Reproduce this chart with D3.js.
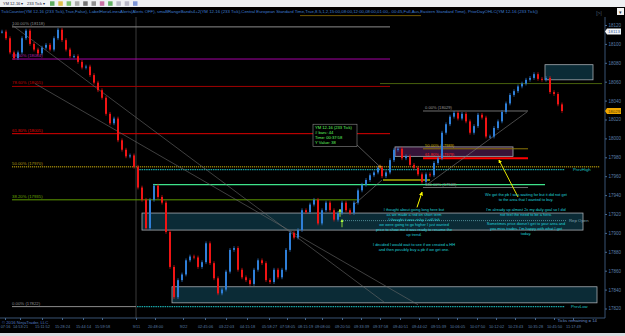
<!DOCTYPE html>
<html>
<head>
<meta charset="utf-8">
<script src="https://d3js.org/d3.v7.min.js"></script>
<style>
    body { margin: 0; background: #000; }
    svg { display: block; }
    text { font-family: "Liberation Sans", Arial, sans-serif; }
</style>
</head>
<body>
<svg id="chart" width="625" height="336"></svg>
<script>
    // closes of the 233 tick bars (left to right)
    const closes = [18113, 18106, 18091, 18085, 18091, 18106, 18114, 18100, 18094, 18090,
        18096, 18099, 18094, 18106, 18115, 18104, 18094, 18087, 18087, 18081,
        18075, 18076, 18067, 18059, 18051, 18043, 18026, 18016, 18021, 17998,
        17988, 17981, 17982, 17970, 17948, 17935, 17905, 17935, 17950, 17938,
        17932, 17901, 17864, 17832, 17850, 17856, 17871, 17875, 17874, 17864,
        17869, 17889, 17868, 17852, 17836, 17840, 17859, 17882, 17884, 17861,
        17853, 17850, 17846, 17861, 17871, 17868, 17850, 17848, 17861, 17853,
        17861, 17882, 17900, 17895, 17903, 17924, 17922, 17930, 17935, 17910,
        17924, 17932, 17924, 17914, 17921, 17932, 17924, 17921, 17932, 17945,
        17951, 17956, 17961, 17964, 17969, 17960, 17964, 17977, 17988, 17989,
        17979, 17981, 17972, 17969, 17962, 17954, 17962, 17961, 17974, 17979,
        18006, 18015, 18023, 18027, 18021, 18026, 18018, 18006, 18013, 18025,
        18022, 18002, 18002, 18011, 18018, 18028, 18037, 18046, 18050, 18055,
        18058, 18062, 18064, 18068, 18063, 18062, 18064, 18049, 18047, 18036,
        18029]

    const priceTicks = [18120, 18100, 18080, 18060, 18040, 18020, 18000, 17980, 17960, 17940, 17920, 17900, 17880, 17860, 17840, 17820]
    const timeLabels = ["07:16", "14:53:21", "15:11:52", "15:28:24", "15:44:14", "15:59:58", "9/11", "20:48:00", "9/22",
        "02:45:06", "03:22:03", "04:15:18", "05:58:27", "07:58:05", "08:15:19", "09:08:00", "09:20:50", "09:33:39",
        "09:37:58", "09:40:51", "09:44:02", "09:55:39", "10:06:05", "10:07:50", "10:12:02", "10:23:43", "10:35:28",
        "10:45:50", "11:17:49"]
    const timeBars = [0.75, 4.5, 10, 15, 20.25, 25, 33.5, 38.25, 45.25, 50.75, 56, 61.25, 66.75, 71.25, 75.75, 80, 85,
        89.75, 94.5, 99.5, 104.25, 109, 113.75, 118.75, 123.5, 128.25, 133.25, 138, 142.75]

    // big fib (swing high 18118 -> swing low 17822)
    const fibPct = ["100.00%", "88.60%", "78.60%", "61.80%", "50.00%", "38.20%", "0.00%"]
    const fibPrice = [18118, 18084, 18055, 18005, 17970, 17935, 17822]
    // small fib on the pullback
    const pbPct = ["0.00%", "50.00%", "61.80%", "100.00%"]
    const pbPrice = [18029, 17989, 17979, 17948]

    // zones (price top / bottom, first / last bar)
    const zoneTop = [18078, 17991, 17921, 17843]
    const zoneBottom = [18062, 17981, 17903, 17826]
    const zoneFrom = [135.75, 98.25, 35, 42.5]
    const zoneTo = [147.75, 127.75, 145.25, 148.75]

    const prevHigh = 17967, prevLow = 17822, repOpen = 17913
    const lastPrice = 18029, markPrice = 18113

    const notesLeft = ["I thought about going long here but", "as we made a red on short term",
        "I thought it was risky.  I still felt", "we were going to go higher I just wanted",
        "price to show me it was ready to resume the", "up trend.", "",
        "I decided I would wait to see if we created  a HH", "and then possibly buy a pb if we get one."]
    const notesRight = ["We got the pb I was waiting for but it did not get", "to the area that I wanted to buy.", "",
        "I'm already up almost 2x my daily goal so I did", "not feel the need to be a hero.", "",
        "Sometimes price doesn't get to your area and", "you miss trades.  I'm happy with what I got", "today."]
    const infoLines = ["YM 12-16 (233 Tick)", "# bars:      44", "Time:        00:37:58", "Y Value:    38"]

    const svg = d3.select("#chart")
    const x = d3.scaleLinear().domain([0, 150.75]).range([2, 605])
    const y = d3.scaleLinear().domain([17820, 18120]).range([308.5, 25])

    const txt = (g, px, py, s, size, fill, anchor) => g.append("text")
        .attr("x", px).attr("y", py).attr("font-size", size).attr("fill", fill)
        .attr("text-anchor", anchor || "start").text(s)

    function hline(price, i0, i1, color, width, dash) {
        svg.append("line")
            .attr("x1", x(i0)).attr("x2", x(i1))
            .attr("y1", y(price)).attr("y2", y(price))
            .attr("stroke", color).attr("stroke-width", width || 1)
            .attr("stroke-dasharray", dash || null)
    }
    function segment(i0, p0, i1, p1, color, width, marker) {
        svg.append("line")
            .attr("x1", x(i0)).attr("y1", y(p0)).attr("x2", x(i1)).attr("y2", y(p1))
            .attr("stroke", color).attr("stroke-width", width || 0.7)
            .attr("marker-end", marker || null)
    }

    function drawFrame() {
        svg.append("rect").attr("width", 625).attr("height", 336).attr("fill", "#000")
        // toolbar
        svg.append("rect").attr("width", 625).attr("height", 7).attr("fill", "#eef0f3")
        txt(svg, 3, 5.3, "YM 12-16 \u25BE", 4, "#223")
        txt(svg, 27, 5.3, "233 Tick \u25BE", 4, "#223")
        const icons = ["#3a9a3a", "#d8b020", "#5ab04a", "#999", "#555", "#777", "#c05090", "#40a040", "#aab", "#aab", "#6080d0"]
        icons.forEach((c, k) => svg.append("rect").attr("x", 50 + k * 8.3).attr("y", 1.3).attr("width", 4.5).attr("height", 4.5)
            .attr("fill", c).attr("opacity", 0.8))
        svg.append("rect").attr("x", 617).attr("y", 8).attr("width", 7).attr("height", 7).attr("fill", "#f2f2f2")
        txt(svg, 620.5, 13.8, "\u25BE", 5, "#333", "middle")
        txt(svg, 599, 15, "[>|", 5, "#4d6078", "middle")
        // indicator line
        svg.append("text").attr("x", 1).attr("y", 12.6).attr("font-size", 4.4).attr("fill", "#3f7dd0")
            .attr("textLength", 537).attr("lengthAdjust", "spacingAndGlyphs")
            .text("TickCounter(YM 12-16 (233 Tick),True,False), LabelHorizLinesAlerts(Alerts OFF), smaBRangeBands4+2(YM 12-16 (233 Tick),Central European Standard Time,True,8.5,1,2,15:00,08:00,12:00,08:00,01:00,- 00:45,Full,Aus,Eastern Standard Time), PriorDayOHLC(YM 12-16 (233 Tick))")
        svg.append("line").attr("x1", 300).attr("x2", 421).attr("y1", 15.6).attr("y2", 15.6)
            .attr("stroke", "#8a6a00").attr("stroke-width", 0.8)
        // session break
        svg.append("line").attr("x1", x(33.5)).attr("x2", x(33.5)).attr("y1", 17).attr("y2", 318)
            .attr("stroke", "#4a4a4a").attr("stroke-width", 0.8)
        // bottom strip
        svg.append("rect").attr("y", 333).attr("width", 625).attr("height", 3).attr("fill", "#d8dbe0")
    }

    function drawZones() {
        zoneTop.forEach((t, k) => {
            svg.append("rect")
                .attr("x", x(zoneFrom[k])).attr("width", x(zoneTo[k]) - x(zoneFrom[k]))
                .attr("y", y(t)).attr("height", y(zoneBottom[k]) - y(t))
                .attr("fill", k == 1 ? "#361338" : "#0b2b36")
                .attr("stroke", "#a6acb2").attr("stroke-width", 0.8)
        })
    }

    function drawLevels() {
        const fibStyle = [
            { c: "#8c8c8c", to: 97 }, { c: "#a400a4", to: 97 }, { c: "#a00000", to: 97 },
            { c: "#e00000", to: 97 }, { c: "#8a7608", to: 149.5, dash: "1.2,0.8", w: 1.6 },
            { c: "#5e9a00", to: 88.75 }, { c: "#8c8c8c", to: 33.5 }]
        const labelCol = ["#8c8c8c", "#b020b0", "#c00000", "#e00000", "#b09a10", "#6aa800", "#8c8c8c"]
        fibPrice.forEach((p, k) => {
            hline(p, 2.5, fibStyle[k].to, fibStyle[k].c, fibStyle[k].w || 1, fibStyle[k].dash)
            txt(svg, x(2.5), y(p) - 2, `${fibPct[k]} (${p})`, 4.3, labelCol[k])
        })
        hline(18058, 94.5, 150, "#5a7a10", 0.8)
        hline(prevHigh, 33.75, 140.75, "#1aa6a8", 1.4, "1.5,0.8")
        hline(prevLow, 33.75, 140.75, "#1aa6a8", 1.2, "1.5,0.8")
        hline(repOpen, 85.25, 141, "#4e8a92", 1, "1,1")
        hline(17951, 37.75, 135.75, "#3ee38a", 1.3)
        hline(17956, 95.25, 107, "#ffff00", 1.2)

        const pbStyle = [{ c: "#8c8c8c", w: 0.8 }, { c: "#8a7608", w: 1 }, { c: "#ff0000", w: 1.8 }, { c: "#8c8c8c", w: 0.8 }]
        const pbLabel = ["#9a9a9a", "#c8a800", "#ff2020", "#9a9a9a"]
        pbPrice.forEach((p, k) => {
            hline(p, 105.25, 131.5, pbStyle[k].c, pbStyle[k].w)
            txt(svg, x(105.75), y(p) - 2, `${pbPct[k]} (${p})`, 4.1, pbLabel[k])
        })

        // trend / fib anchor lines
        segment(2.5, 18120, 95.75, 17826, "#6a6a6a", 0.6)
        segment(8.25, 18058, 104, 17824, "#6a6a6a", 0.6)
        segment(106.25, 17951, 131.25, 18028, "#7a7a7a", 0.6)
        segment(87.75, 17929, 95, 17956, "#7a7a7a", 0.6)
    }

    function drawCandles() {
        const bars = closes.map((c, i) => ({ i: i, open: i ? closes[i - 1] : c, close: c }))
        const g = svg.append("g")
        const col = (d) => d.close >= d.open ? "#2f7fd8" : "#f01414"
        g.selectAll(".wick").data(bars).enter().append("line")
            .attr("class", "wick")
            .attr("x1", (d) => x(d.i)).attr("x2", (d) => x(d.i))
            .attr("y1", (d) => y(Math.max(d.open, d.close) + 2))
            .attr("y2", (d) => y(Math.min(d.open, d.close) - 2))
            .attr("stroke", col).attr("stroke-width", 0.7)
        g.selectAll(".body").data(bars).enter().append("rect")
            .attr("class", "body")
            .attr("x", (d) => x(d.i) - 1).attr("width", 2)
            .attr("y", (d) => y(Math.max(d.open, d.close)))
            .attr("height", (d) => Math.max(1, Math.abs(y(d.open) - y(d.close))))
            .attr("fill", col)
    }

    function drawAxes() {
        svg.append("line").attr("x1", 605).attr("x2", 605).attr("y1", 17).attr("y2", 318)
            .attr("stroke", "#46688f").attr("stroke-width", 0.8)
        svg.append("line").attr("x1", 0).attr("x2", 605).attr("y1", 318).attr("y2", 318)
            .attr("stroke", "#46688f").attr("stroke-width", 0.8)

        const ya = svg.append("g").attr("transform", "translate(605,0)")
            .call(d3.axisRight(y).tickValues(priceTicks).tickSize(2).tickPadding(1.5).tickFormat(d3.format("d")))
        ya.select(".domain").remove()
        ya.selectAll("line").attr("stroke", "#46688f")
        ya.selectAll("text").attr("fill", "#5b7fa8").attr("font-size", 4.5).attr("font-family", "Liberation Sans, Arial")

        const xa = svg.append("g").attr("transform", "translate(0,318)")
            .call(d3.axisBottom(x).tickValues(timeBars).tickSize(2).tickPadding(5).tickFormat((d, i) => timeLabels[i]))
        xa.select(".domain").remove()
        xa.selectAll("line").attr("stroke", "#46688f")
        xa.selectAll("text").attr("fill", "#5b7fa8").attr("font-size", 3.9).attr("font-family", "Liberation Sans, Arial")

        // price markers
        const marks = [{ p: markPrice, bg: "#f4f6fa", fg: "#3a5a90" }, { p: lastPrice, bg: "#f0a800", fg: "#5a3a00" }]
        marks.forEach((m) => {
            svg.append("path").attr("d", `M605,${y(m.p)} l2,-3 h14 v6 h-14 z`).attr("fill", m.bg)
            txt(svg, 614, y(m.p) + 1.6, m.p, 4.4, m.fg, "middle")
        })

        txt(svg, 2, 324, "\u00A9 2016 NinjaTrader, LLC", 4.2, "#4f79c0")
        txt(svg, 597, 322, "Ticks remaining = 14", 4.3, "#6a8cc8", "end")
        txt(svg, 573, y(prevHigh) + 1.5, "PrevHigh", 4.3, "#1fc6c6")
        txt(svg, 571, y(prevLow) + 1.5, "PrevLow", 4.3, "#1fc6c6")
        txt(svg, 569, y(repOpen) + 1.5, "Rep Open", 4.3, "#7fa4b0")
    }

    function drawNotes() {
        const defs = svg.append("defs")
        defs.append("marker").attr("id", "yhead").attr("viewBox", "0 0 10 10").attr("refX", 8).attr("refY", 5)
            .attr("markerWidth", 4).attr("markerHeight", 4).attr("orient", "auto")
            .append("path").attr("d", "M0,0 L10,5 L0,10 z").attr("fill", "#ffff00")
        defs.append("marker").attr("id", "ghead").attr("viewBox", "0 0 10 10").attr("refX", 8).attr("refY", 5)
            .attr("markerWidth", 4).attr("markerHeight", 4).attr("orient", "auto")
            .append("path").attr("d", "M0,0 L10,5 L0,10 z").attr("fill", "#b0ff40")

        segment(103.75, 17927, 105, 17943, "#ffff00", 1, "url(#yhead)")
        segment(129, 17938, 124.25, 17977, "#ffff00", 0.9, "url(#yhead)")
        segment(84.5, 17917, 84.5, 17925, "#b0ff40", 0.8, "url(#ghead)")
        segment(85, 17906, 85, 17914, "#b0ff40", 0.8, "url(#ghead)")

        // info box of the measuring tool
        segment(88.75, 17993, 94.5, 17970, "#8a8a8a", 0.6)
        svg.append("path").attr("d", `M${x(94.5) - 2},${y(17970)} h4 M${x(94.5)},${y(17970) - 2} v4`)
            .attr("stroke", "#ffa020").attr("stroke-width", 0.8)
        svg.append("rect").attr("x", x(77.75)).attr("y", y(18015)).attr("width", x(88.75) - x(77.75))
            .attr("height", y(17991.5) - y(18015)).attr("fill", "#000").attr("stroke", "#8a8a8a").attr("stroke-width", 0.6)
        infoLines.forEach((s, k) => txt(svg, x(78.25), y(18015) + 5.2 + k * 5, s, 4.1, "#60ff60"))

        const g = svg.append("g")
        notesLeft.forEach((s, k) => txt(g, x(103), y(17923) + k * 5, s, 3.9, "#1fd2dc", "middle"))
        notesRight.forEach((s, k) => txt(g, x(131), y(17939) + k * 4.9, s, 3.9, "#1fd2dc", "middle"))
    }

    drawFrame()
    drawZones()
    drawLevels()
    drawCandles()
    drawAxes()
    drawNotes()
</script>
</body>
</html>
